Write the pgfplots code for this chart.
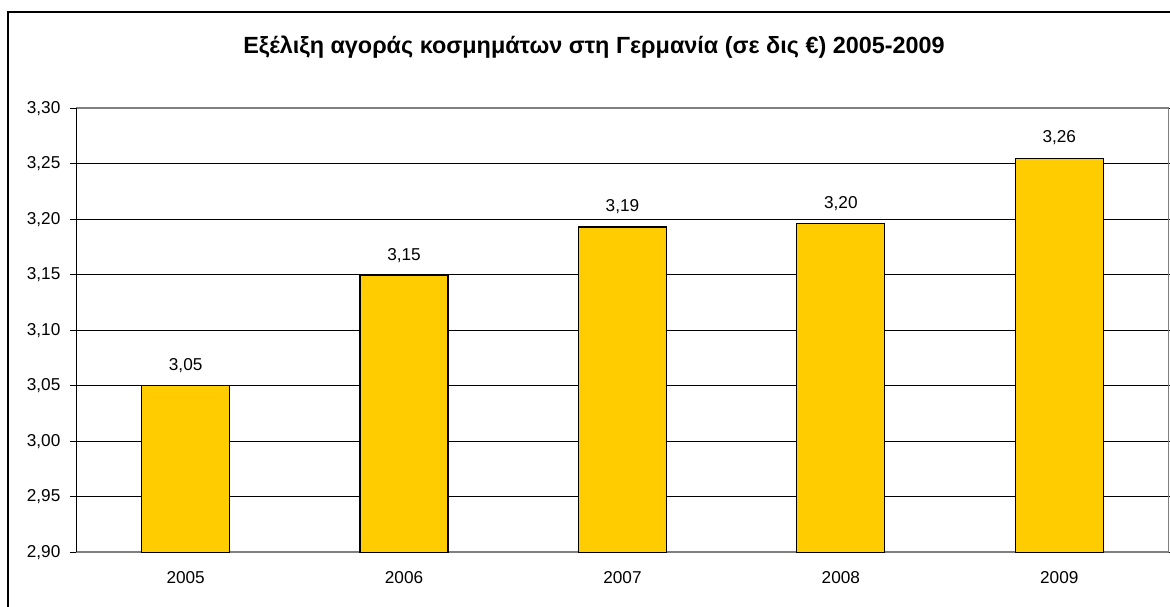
\documentclass[border=0pt]{standalone}
\usepackage{fontspec}
\setmainfont{Liberation Sans}
\usepackage{pgfplots}
\pgfplotsset{compat=1.18}
\usepackage{pgfplotstable}
\definecolor{bargold}{HTML}{FFCC00}
\definecolor{frameg}{HTML}{808080}

\pgfplotstableread{
x year value label
0 2005 3.050 3,05
1 2006 3.149 3,15
2 2007 3.193 3,19
3 2008 3.196 3,20
4 2009 3.255 3,26
}\sales

\begin{document}
\begin{tikzpicture}[x=1pt,y=1pt]
\useasboundingbox (0,0) rectangle (585,303);
\begin{scope}
\clip (0,0) rectangle (585,303);
\draw[line width=1pt] (4,-10) rectangle (600,297);
\end{scope}
\node[font=\bfseries\fontsize{11.7}{14}\selectfont] at (297,279.5)
  {Εξέλιξη αγοράς κοσμημάτων στη Γερμανία (σε δις €) 2005-2009};
\begin{axis}[
  at={(35,48.5)}, anchor=south west,
  scale only axis,
  width=546pt, height=222pt,
  ybar, bar width=44pt,
  xmin=-0.5, xmax=4.5,
  ymin=2.9, ymax=3.3,
  ytick={2.90,2.95,...,3.31},
  xtick={0,1,2,3,4},
  xticklabels={2005,2006,2007,2008,2009},
  major x tick style={draw=none},
  extra x ticks={-0.5,0.5,1.5,2.5,3.5,4.5},
  extra x tick labels={},
  extra x tick style={major tick length=3pt, tick style={draw=frameg, line width=0.6pt}},
  tick align=outside,
  major tick length=3pt,
  y tick style={black, line width=0.5pt},
  ymajorgrids,
  grid style={black, line width=0.5pt},
  axis line style={frameg, line width=0.8pt},
  ticklabel style={font=\fontsize{8.6}{10}\selectfont, text=black},
  /pgf/number format/.cd, use comma, fixed, fixed zerofill, precision=2, assume math mode=true,
  /pgfplots/.cd,
  yticklabel style={xshift=-1.5pt},
  xticklabel style={yshift=-3pt},
  nodes near coords,
  point meta=explicit symbolic,
  nodes near coords style={font=\fontsize{8.6}{10}\selectfont, anchor=south, yshift=3pt},
  clip=false,
]
\addplot[fill=bargold, draw=black, line width=0.6pt] table[x=x, y=value, meta=label] {\sales};
\draw[black, line width=0.6pt] (rel axis cs:0,0) -- (rel axis cs:0,1);
\end{axis}
\end{tikzpicture}
\end{document}
